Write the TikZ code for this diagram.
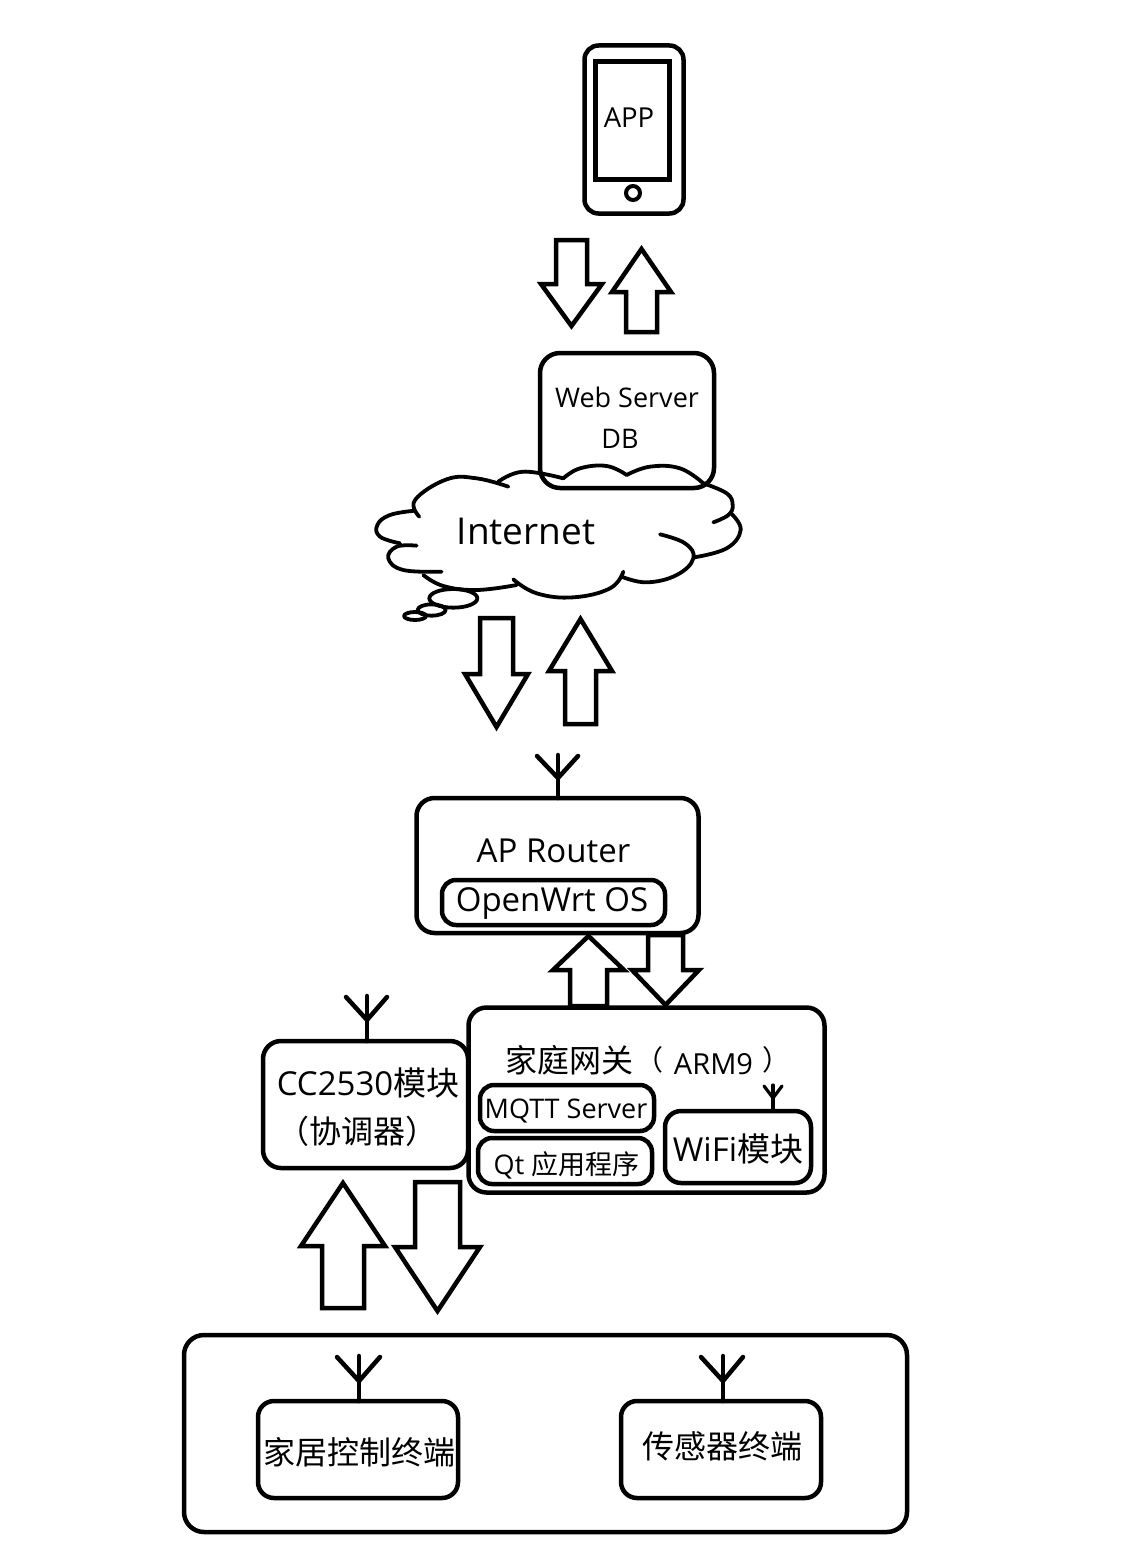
\documentclass[tikz,border=0pt]{standalone}
\usepackage{fontspec}
\setmainfont{Open Sans}
\newfontfamily\cjk{Noto Sans CJK SC}
\newcommand{\fs}[1]{\fontsize{#1}{#1}\selectfont}
\newcommand{\blockdown}[6]{\draw[blockarrow] (#1,#2) -- (#3,#2) -- (#3,#4) -- ({#1+#3-#5},#4) -- ({(#1+#3)/2},#6) -- (#5,#4) -- (#1,#4) -- cycle;}
\tikzset{
  x=1pt,y=-1pt,
  wire/.style={line width=4.5pt,line cap=round,line join=round},
  thinwire/.style={line width=3.2pt,line cap=round,line join=round},
  blockarrow/.style={line width=4.5pt,line join=miter,miter limit=4},
  roundbox/.style={draw,line width=4.5pt,rounded corners=#1,inner sep=0pt,outer sep=0pt},
  roundbox/.default=18pt,
  label/.style={inner sep=0pt,outer sep=0pt,anchor=center},
  cloudline/.style={line width=3.8pt,line cap=round,line join=round},
}
\begin{document}
\begin{tikzpicture}
\useasboundingbox (0,0) rectangle (1132,1568);
% phone
\node[roundbox=14pt,minimum width=99pt,minimum height=168pt] (phone) at (634,129.5) {};
\node[draw,line width=4.5pt,inner sep=0pt,minimum width=74pt,minimum height=118pt] (screen) at (632.5,120.5) {};
\node[draw,line width=4pt,circle,inner sep=0pt,minimum size=14pt] (button) at (633,193) {};
\node[label] (applabel) at (629,118) {\fs{27.5}APP};
% arrows phone - web
\blockdown{556}{240}{587}{284}{541}{326}
\blockdown{626}{332}{657}{292}{612}{249}
% web
\node[roundbox=20pt,minimum width=174pt,minimum height=135pt] (web) at (627,420.5) {};
\node[label] (weblabel) at (627,397) {\fs{27}Web Server};
\node[label] (dblabel) at (620,438.5) {\fs{27}DB};
% cloud
\begin{scope}[shift={(360,340)},x=0.33333pt,y=-0.33333pt]
\draw[cloudline] plot[smooth,tension=0.7] coordinates {(178,530) (165,480) (260,418) (350,415) (445,440)};
\draw[cloudline] plot[smooth,tension=0.7] coordinates {(415,425) (490,395) (610,415)};
\draw[cloudline] plot[smooth,tension=0.7] coordinates {(610,415) (660,385) (740,378) (800,405)};
\draw[cloudline] plot[smooth,tension=0.7] coordinates {(800,405) (870,380) (960,385) (1030,430)};
\draw[cloudline] plot[smooth,tension=0.7] coordinates {(1030,430) (1100,460) (1118,495) (1105,525) (1060,547)};
\draw[cloudline] plot[smooth,tension=0.7] coordinates {(1115,522) (1142,570) (1100,625) (1003,652)};
\draw[cloudline] plot[smooth,tension=0.7] coordinates {(900,583) (975,610) (1000,655) (950,705) (860,727) (785,710)};
\draw[cloudline] plot[smooth,tension=0.7] coordinates {(790,695) (750,745) (640,772) (530,760) (460,718)};
\draw[cloudline] plot[smooth,tension=0.7] coordinates {(470,735) (350,750) (250,738) (190,705)};
\draw[cloudline] plot[smooth,tension=0.7] coordinates {(245,695) (130,690) (85,655) (110,620) (170,617)};
\draw[cloudline] plot[smooth,tension=0.7] coordinates {(120,610) (60,590) (52,555) (90,525) (165,512)};
\draw[cloudline] (280,775) ellipse [x radius=72,y radius=28];
\draw[cloudline] (215,810) ellipse [x radius=42,y radius=17];
\draw[cloudline] (165,828) ellipse [x radius=33,y radius=12];
\end{scope}
\node[label] (internet) at (526,531) {\fs{37}Internet};
% arrows cloud - router
\blockdown{480}{618}{513}{674}{465}{727}
\blockdown{565}{724}{596}{671}{549}{619}
% router
\node[roundbox=18pt,minimum width=282pt,minimum height=135pt] (ap) at (557.5,865.5) {};
\node[label] (aplabel) at (553.5,851) {\fs{33}AP Router};
\node[roundbox=14pt,minimum width=223pt,minimum height=45pt] (openwrt) at (553.5,902.5) {};
\node[label] (openwrtlabel) at (552,903) {\fs{33}OpenWrt OS};
\coordinate (aptop) at (558,755);
\coordinate (apj) at (558,778);
\coordinate (apl) at (537,756);
\coordinate (apr) at (578,756);
\draw[wire] (ap.north -| aptop) -- (aptop);
\draw[wire] (apl) -- (apj) -- (apr);
% arrows router - gateway
\blockdown{570}{1006}{607}{970}{553}{936}
\blockdown{648}{935}{683}{970}{632}{1005}
% gateway
\node[roundbox=18pt,minimum width=356pt,minimum height=185pt] (gw) at (646.5,1100) {};
\node[label] (gwcn) at (569,1060) {\cjk\fs{32}家庭网关};
\node[label] (gwl) at (649,1060) {\cjk\fs{28}（};
\node[label] (gwarm) at (713.5,1064) {\fs{29}ARM9};
\node[label] (gwr) at (776,1060) {\cjk\fs{28}）};
\node[roundbox=14pt,minimum width=174pt,minimum height=46pt] (mqtt) at (567,1108) {};
\node[label] (mqttlabel) at (566,1111) {\fs{27}MQTT Server};
\node[roundbox=14pt,minimum width=174pt,minimum height=46pt] (qt) at (565,1161) {};
\node[label] (qtlabel) at (566.5,1165) {\fs{27}Qt {\cjk 应用程序}};
\node[roundbox=16pt,minimum width=146pt,minimum height=72pt] (wifi) at (738,1147) {};
\node[label] (wifilabel) at (738,1149) {\fs{33}WiFi{\cjk 模块}};
\coordinate (wtop) at (773,1085);
\coordinate (wj) at (773,1098);
\coordinate (wl) at (764,1086);
\coordinate (wr) at (782,1086);
\draw[thinwire] (wifi.north -| wtop) -- (wtop);
\draw[thinwire] (wl) -- (wj) -- (wr);
% cc2530
\node[roundbox=18pt,minimum width=205pt,minimum height=127pt] (cc) at (365.5,1104.5) {};
\node[label] (cclabel) at (368,1083) {\fs{33}CC2530{\cjk 模块}};
\node[label] (cclabelb) at (357,1131) {\cjk\fs{32}（协调器）};
\coordinate (cctop) at (367,996);
\coordinate (ccj) at (367,1020);
\coordinate (ccl) at (346,997);
\coordinate (ccr) at (387,997);
\draw[wire] (cc.north -| cctop) -- (cctop);
\draw[wire] (ccl) -- (ccj) -- (ccr);
% arrows cc - terminals
\blockdown{322}{1308}{364}{1246}{301}{1183}
\blockdown{415}{1182}{460}{1247}{395}{1311}
% outer
\node[roundbox=20pt,minimum width=723pt,minimum height=197pt] (outer) at (545.5,1433.5) {};
\node[roundbox=16pt,minimum width=200pt,minimum height=97pt] (home) at (358,1449.5) {};
\node[label] (homelabel) at (359,1452) {\cjk\fs{32}家居控制终端};
\node[roundbox=16pt,minimum width=200pt,minimum height=97pt] (sensor) at (721,1449.5) {};
\node[label] (sensorlabel) at (722,1446) {\cjk\fs{32}传感器终端};
\coordinate (htop) at (359,1356);
\coordinate (hj) at (359,1381);
\coordinate (hl) at (337,1357);
\coordinate (hr) at (380,1357);
\draw[wire] (home.north -| htop) -- (htop);
\draw[wire] (hl) -- (hj) -- (hr);
\coordinate (stop) at (723,1356);
\coordinate (sj) at (723,1381);
\coordinate (sl) at (701,1357);
\coordinate (sr) at (743,1357);
\draw[wire] (sensor.north -| stop) -- (stop);
\draw[wire] (sl) -- (sj) -- (sr);
\end{tikzpicture}
\end{document}
